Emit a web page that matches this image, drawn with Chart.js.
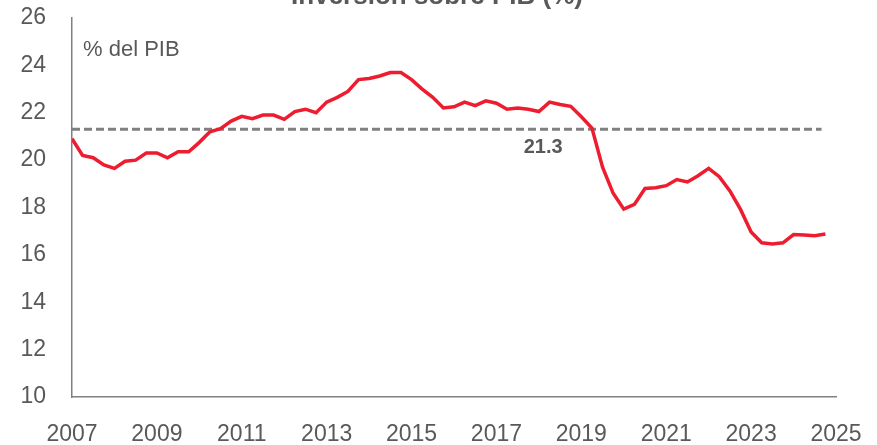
<!DOCTYPE html>
<html>
<head>
<meta charset="utf-8">
<script src="https://cdn.jsdelivr.net/npm/chart.js@4.4.1/dist/chart.umd.min.js"></script>
<style>
  html, body { margin: 0; padding: 0; background: #ffffff; }
  #wrap { width: 877px; height: 445px; }
</style>
</head>
<body>
<div id="wrap"><canvas id="inv-chart" width="877" height="445"></canvas></div>
<script>
'use strict';
// DATA - INVERSION SOBRE PIB, QUARTERLY 2007 Q1 .. 2024 Q4
const startYear = 2007;
const investment = [
  20.9, 20.2, 20.1, 19.8, 19.65, 19.95, 20.0, 20.3,
  20.3, 20.1, 20.35, 20.35, 20.75, 21.2, 21.33, 21.65,
  21.85, 21.75, 21.9, 21.9, 21.72, 22.05, 22.15, 22.0,
  22.45, 22.65, 22.9, 23.4, 23.45, 23.55, 23.7, 23.7,
  23.4, 23.0, 22.65, 22.2, 22.25, 22.45, 22.3, 22.5,
  22.4, 22.15, 22.2, 22.15, 22.05, 22.45, 22.35, 22.27,
  21.83, 21.35, 19.7, 18.6, 17.93, 18.13, 18.8, 18.83,
  18.92, 19.18, 19.08, 19.34, 19.65, 19.3, 18.7, 17.92,
  16.97, 16.51, 16.46, 16.51, 16.86, 16.84, 16.81, 16.88
];
const averageValue = 21.3;
const averageSpan = [2007, 2024.66];
const yearTicks = [2007, 2009, 2011, 2013, 2015, 2017, 2019, 2021, 2023, 2025];
const titleText = 'Inversión sobre PIB (%)';
const unitText = '% del PIB';

const GREY_TEXT = '#595959';
const FONT = "'Liberation Sans', Arial, sans-serif";

// BUILD POINTS FROM THE QUARTER INDEX
const investPoints = investment.map((v, i) => ({ x: startYear + i / 4, y: v }));
const averagePoints = averageSpan.map((x) => ({ x: x, y: averageValue }));

// TEXT DRAWN ON TOP OF THE CHART (TITLE, UNIT, AVERAGE LABEL)
const textPlugin = {
  id: 'chartTexts',
  afterDatasetsDraw(chart) {
    const ctx = chart.ctx;
    const xs = chart.scales.x;
    const ys = chart.scales.y;
    ctx.save();
    ctx.fillStyle = GREY_TEXT;

    ctx.font = 'bold 26px ' + FONT;
    ctx.textAlign = 'center';
    ctx.textBaseline = 'alphabetic';
    ctx.fillText(titleText, 437, 4);

    ctx.font = '22px ' + FONT;
    ctx.textAlign = 'left';
    ctx.textBaseline = 'middle';
    ctx.fillText(unitText, chart.chartArea.left + 11, ys.getPixelForValue(24.65));

    ctx.font = 'bold 20px ' + FONT;
    ctx.textAlign = 'center';
    ctx.fillText(String(averageValue), xs.getPixelForValue(2018.1), ys.getPixelForValue(averageValue) + 18);
    ctx.restore();
  }
};

const config = {
  type: 'line',
  data: {
    datasets: [
      {
        label: 'Inversión',
        data: investPoints,
        borderColor: '#ED1C2E',
        borderWidth: 3.5,
        pointRadius: 0,
        tension: 0,
        fill: false
      },
      {
        label: 'Media',
        data: averagePoints,
        borderColor: '#808080',
        borderWidth: 3,
        borderDash: [8, 4],
        pointRadius: 0,
        fill: false
      }
    ]
  },
  options: {
    responsive: false,
    animation: false,
    layout: { padding: { top: 18, right: 41, left: 0, bottom: 0 } },
    plugins: {
      legend: { display: false },
      tooltip: { enabled: false }
    },
    scales: {
      x: {
        type: 'linear',
        min: 2007,
        max: 2025,
        afterFit: (scale) => {
          scale.height = 48;
          scale.paddingLeft = 0;
          scale.paddingRight = 0;
        },
        afterBuildTicks: (scale) => { scale.ticks = yearTicks.map((v) => ({ value: v })); },
        grid: { display: false, drawTicks: false },
        border: { color: '#808080', width: 1.5 },
        ticks: {
          autoSkip: false,
          maxRotation: 0,
          padding: 24,
          color: GREY_TEXT,
          font: { family: FONT, size: 23 },
          callback: (v) => String(v)
        }
      },
      y: {
        min: 10,
        max: 26,
        afterFit: (scale) => {
          scale.width = 72;
          scale.paddingTop = 0;
          scale.paddingBottom = 0;
        },
        grid: { display: false, drawTicks: false },
        border: { color: '#808080', width: 1.5 },
        ticks: {
          stepSize: 2,
          padding: 26,
          color: GREY_TEXT,
          font: { family: FONT, size: 23 }
        }
      }
    }
  },
  plugins: [textPlugin]
};

const invChart = new Chart(document.querySelector('#inv-chart'), config);
</script>
</body>
</html>
